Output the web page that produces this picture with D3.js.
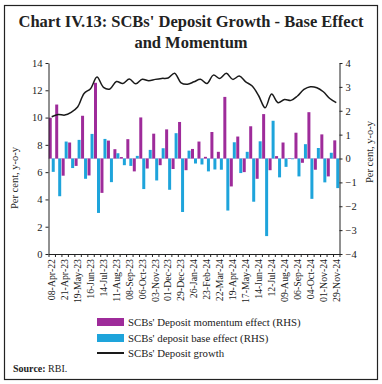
<!DOCTYPE html>
<html><head><meta charset="utf-8">
<script src="https://cdn.jsdelivr.net/npm/d3@7"></script>
<style>
body{margin:0;background:#fff;}
text{font-family:"Liberation Serif","DejaVu Serif",serif;fill:#222;}
</style></head>
<body><svg id="c" width="382" height="384"></svg>
<script>
const categories = ["08-Apr-22","07-Apr-23","21-Apr-23","05-May-23","19-May-23","02-Jun-23","16-Jun-23","30-Jun-23","14-Jul-23","28-Jul-23","11-Aug-23","25-Aug-23","08-Sep-23","22-Sep-23","06-Oct-23","20-Oct-23","03-Nov-23","17-Nov-23","01-Dec-23","15-Dec-23","29-Dec-23","12-Jan-24","26-Jan-24","09-Feb-24","23-Feb-24","08-Mar-24","22-Mar-24","05-Apr-24","19-Apr-24","03-May-24","17-May-24","31-May-24","14-Jun-24","28-Jun-24","12-Jul-24","26-Jul-24","09-Aug-24","23-Aug-24","06-Sep-24","20-Sep-24","04-Oct-24","18-Oct-24","01-Nov-24","15-Nov-24","29-Nov-24"];
const momentum = [1.71,2.26,-0.72,0.67,-0.31,1.79,-0.71,3.17,-1.44,0.75,0.39,0.06,0.81,-0.54,1.72,-0.42,1.04,-0.28,1.22,-0.44,1.53,-0.49,0.40,0.71,0.07,1.11,0.28,2.58,-1.17,0.92,-0.57,1.35,-0.85,1.86,-0.49,0.10,0.67,0.02,1.08,-0.18,1.94,-0.47,1.01,-0.75,0.76];
const baseEffect = [-0.56,-1.58,0.71,-0.40,0.78,-0.85,1.03,-2.28,0.82,-0.99,0.22,-0.28,-0.31,0.11,-1.28,0.36,-0.92,0.43,-1.31,1.06,-2.24,0.33,-0.21,-0.25,-0.54,-0.46,-0.47,-2.18,0.68,-0.61,0.28,-1.81,0.72,-3.25,1.58,-0.79,-0.35,-0.03,-0.75,0.60,-1.69,0.44,-1.00,0.24,-1.24];
const growth = [10.06,10.23,10.18,10.38,10.77,11.77,12.12,12.97,12.22,12.10,12.64,12.50,12.83,12.47,12.81,12.70,12.80,12.87,12.90,13.25,12.55,12.45,12.62,12.80,12.50,13.11,12.87,13.24,12.80,13.04,12.62,12.31,11.60,10.72,11.72,11.09,11.33,11.26,11.58,12.06,12.26,12.19,11.89,11.40,11.09];
const leftTicks = [0,2,4,6,8,10,12,14];
const rightTicks = [-4,-3,-2,-1,0,1,2,3,4];
const seriesNames = ["SCBs' Deposit momentum effect (RHS)","SCBs' deposit base effect (RHS)","SCBs' Deposit growth"];
const colors = {m:"#9e2b9a", b:"#1ea4db", line:"#1a1a1a"};

const svg = d3.select("#c");
const L = 48.5, R = 339.5, T = 63, B = 254;

// frame
svg.append("rect").attr("x",4.5).attr("y",5.5).attr("width",373).attr("height",374)
  .attr("fill","none").attr("stroke","#222").attr("stroke-width",1.2);

// title
const title = svg.append("text").attr("text-anchor","middle").style("font-weight","bold").style("font-size","16.5px").attr("fill","#1a1a1a");
title.append("tspan").attr("x",191).attr("y",27).text("Chart IV.13: SCBs' Deposit Growth - Base Effect");
title.append("tspan").attr("x",191).attr("y",48).text("and Momentum");

const x = d3.scaleBand().domain(categories).range([L,R]).paddingInner(0).paddingOuter(0);
const xs = d3.scaleBand().domain(["m","b"]).range([0,x.bandwidth()]).paddingInner(0).paddingOuter(0.08);
const yL = d3.scaleLinear().domain([0,14]).range([B,T]);
const yR = d3.scaleLinear().domain([-4,4]).range([B,T]);

// zero line
svg.append("line").attr("x1",L).attr("x2",R).attr("y1",yR(0)).attr("y2",yR(0)).attr("stroke","#e2c6e2").attr("stroke-width",1);

// bars
const g = svg.append("g");
categories.forEach((c,i)=>{
  [["m",momentum[i]],["b",baseEffect[i]]].forEach(([k,v])=>{
    g.append("rect").attr("x",x(c)+xs(k)).attr("width",xs.bandwidth())
      .attr("y",Math.min(yR(v),yR(0))).attr("height",Math.abs(yR(v)-yR(0)))
      .attr("fill",colors[k]);
  });
});

// line
const line = d3.line().x((d,i)=>x(categories[i])+x.bandwidth()/2).y(d=>yL(d)).curve(d3.curveCatmullRom.alpha(0.5));
svg.append("path").datum(growth).attr("d",line).attr("fill","none").attr("stroke",colors.line).attr("stroke-width",1.5);

// axes
const axL = svg.append("g").attr("transform",`translate(${L},0)`).call(d3.axisLeft(yL).tickValues(leftTicks).tickSize(3).tickSizeOuter(0));
const axR = svg.append("g").attr("transform",`translate(${R},0)`).call(d3.axisRight(yR).tickValues(rightTicks).tickSize(3).tickSizeOuter(0));
const xi = d3.scaleLinear().domain([0,categories.length]).range([L,R]);
const axB = svg.append("g").attr("transform",`translate(0,${B})`).call(d3.axisBottom(xi).tickValues(d3.range(categories.length+1)).tickFormat("").tickSize(3).tickSizeOuter(0));
[axL,axR,axB].forEach(a=>{a.selectAll("path,line").attr("stroke","#222");a.selectAll("text").style("font-size","10.5px").attr("fill","#333").style("font-family","'Liberation Serif',serif");});

// x labels
categories.forEach((c,i)=>{
  if(i%2) return;
  const cx = x(c)+x.bandwidth()/2;
  svg.append("text").attr("transform",`translate(${cx+3.3},${B+5}) rotate(-90)`)
    .attr("text-anchor","end").style("font-size","9.8px").attr("fill","#333").text(c);
});

// axis titles
svg.append("text").attr("transform","translate(18,178) rotate(-90)").attr("text-anchor","middle").style("font-size","10.5px").attr("fill","#333").text("Per cent, y-o-y");
svg.append("text").attr("transform","translate(373,152) rotate(-90)").attr("text-anchor","middle").style("font-size","10.5px").attr("fill","#333").text("Per cent, y-o-y");

// legend
const lg = svg.append("g");
const ly = [322,338,353];
lg.append("rect").attr("x",97).attr("y",ly[0]-4).attr("width",27).attr("height",8).attr("fill",colors.m);
lg.append("rect").attr("x",97).attr("y",ly[1]-4).attr("width",27).attr("height",8).attr("fill",colors.b);
lg.append("line").attr("x1",97).attr("x2",124).attr("y1",ly[2]).attr("y2",ly[2]).attr("stroke",colors.line).attr("stroke-width",2);
seriesNames.forEach((s,i)=>{
  lg.append("text").attr("x",128).attr("y",ly[i]+3.5).style("font-size","10.8px").attr("fill","#222").text(s);
});

// source
const src = svg.append("text").attr("x",13).attr("y",372).style("font-size","10px").attr("fill","#111");
src.append("tspan").style("font-weight","bold").text("Source:");
src.append("tspan").text(" RBI.");
</script></body></html>
